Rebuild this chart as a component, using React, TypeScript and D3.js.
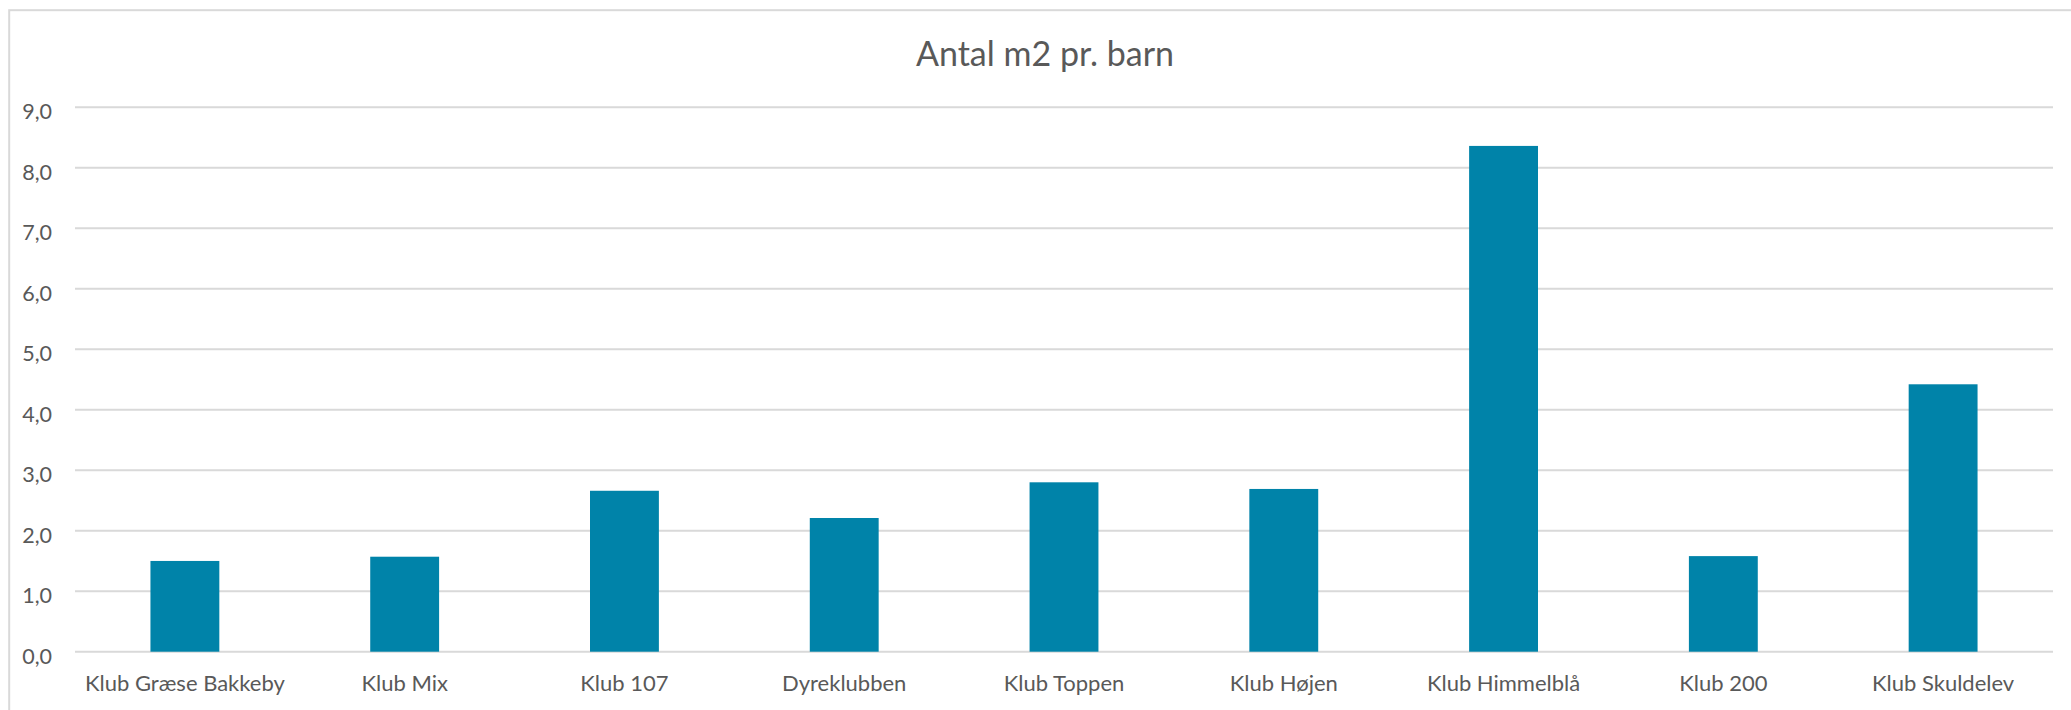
import React from 'react';
import * as d3 from 'd3';

// chart data
const clubs = [
  'Klub Græse Bakkeby',
  'Klub Mix',
  'Klub 107',
  'Dyreklubben',
  'Klub Toppen',
  'Klub Højen',
  'Klub Himmelblå',
  'Klub 200',
  'Klub Skuldelev',
];
const m2PerChild = [1.5, 1.57, 2.66, 2.21, 2.8, 2.69, 8.36, 1.58, 4.42];
const yTicks = [0, 1, 2, 3, 4, 5, 6, 7, 8, 9];
const title = 'Antal m2 pr. barn';

const W = 2071;
const H = 710;
const plot = { left: 75, right: 2053, top: 107.2, bottom: 651.7 };
const font = 'Lato, "Open Sans", sans-serif';
const textColor = '#595959';
const gridColor = '#d9d9d9';
const barColor = '#0083a9';

export default function App() {
  const x = d3.scaleBand<string>()
    .domain(clubs)
    .range([plot.left, plot.right])
    .paddingInner(0.6866)
    .paddingOuter(0.3433);

  const y = d3.scaleLinear()
    .domain([0, 9])
    .range([plot.bottom, plot.top]);

  const fmt = (v: number) => d3.format('.1f')(v).replace('.', ',');

  return (
    <svg
      width={W}
      height={H}
      style={{ position: 'absolute', left: 0, top: 0, background: '#fff' }}
      fontFamily={font}
    >
      <rect x={0} y={0} width={W} height={H} fill="#fff" />
      {/* chart border, runs past the right and bottom edge */}
      <rect x={9.2} y={10.2} width={W + 50} height={H + 50} fill="none" stroke={gridColor} strokeWidth={2} />

      <text x={1045} y={66} textAnchor="middle" fontSize={34} fill={textColor}>
        {title}
      </text>

      {/* gridlines + y labels */}
      {yTicks.map(t => (
        <g key={t}>
          <line x1={plot.left} x2={plot.right} y1={y(t)} y2={y(t)} stroke={gridColor} strokeWidth={2} />
          <text x={52} y={y(t) + 12} textAnchor="end" fontSize={21.5} fill={textColor}>
            {fmt(t)}
          </text>
        </g>
      ))}

      {/* bars */}
      {clubs.map((c, i) => (
        <rect
          key={c}
          x={x(c)}
          y={y(m2PerChild[i])}
          width={x.bandwidth()}
          height={y(0) - y(m2PerChild[i])}
          fill={barColor}
        />
      ))}

      {/* x labels */}
      {clubs.map(c => (
        <text
          key={c}
          x={(x(c) ?? 0) + x.bandwidth() / 2}
          y={691}
          textAnchor="middle"
          fontSize={22}
          fill={textColor}
        >
          {c}
        </text>
      ))}
    </svg>
  );
}
